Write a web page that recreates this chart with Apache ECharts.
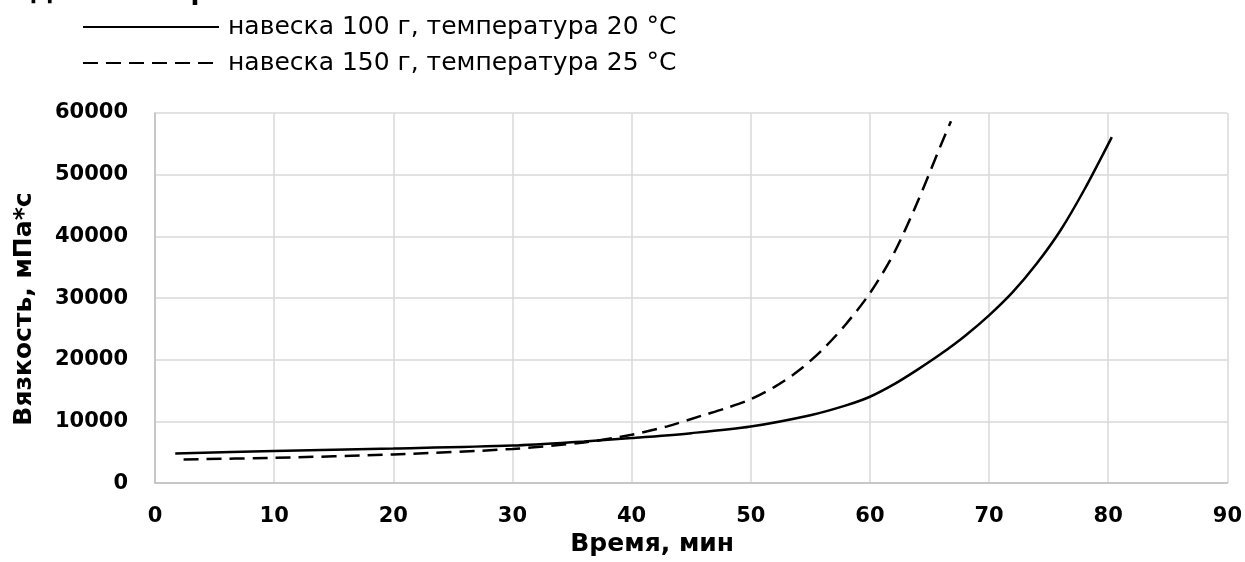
<!DOCTYPE html>
<html>
<head>
    <meta charset="utf-8">
    <title>Вязкость</title>
    <script src="https://cdn.jsdelivr.net/npm/echarts@6/dist/echarts.min.js"></script>
    <style type="text/css">
        body{ margin:0; background:#fff; }
    </style>
</head>
<body>
<div id="main" style="width:1245px;height:562px;"></div>

<script type="text/javascript">
    // данные
    var seriesNames = ['навеска 100 г, температура 20 °С', 'навеска 150 г, температура 25 °С'];
    // время, мин -> вязкость, мПа*с
    var time100 = [1.7, 10, 20, 30, 36, 40, 45, 50, 55, 58, 60, 62, 64, 66, 68, 70, 72, 74, 76, 78, 80.3];
    var visc100 = [4800, 5220, 5600, 6080, 6750, 7300, 8100, 9170, 11000, 12600, 14000, 16000, 18400, 21000, 23900, 27200, 31000, 35600, 41000, 47600, 56100];
    var time150 = [2.4, 10, 20, 30, 36, 40, 43, 46, 48, 50, 52, 54, 56, 58, 60, 62, 64, 66, 66.8];
    var visc150 = [3840, 4100, 4640, 5540, 6600, 7840, 9200, 11000, 12200, 13600, 15600, 18200, 21600, 25800, 30800, 37200, 45600, 55000, 58650];
    var xTicks = [0, 10, 20, 30, 40, 50, 60, 70, 80, 90];
    var yTicks = [0, 10000, 20000, 30000, 40000, 50000, 60000];

    function pairs(xs, ys) {
        var out = [];
        for (var i = 0; i < xs.length; i++) {
            out.push([xs[i], ys[i]]);
        }
        return out;
    }

    var font = 'Verdana, "DejaVu Sans", sans-serif';
    var myChart = echarts.init(document.getElementById('main'));
    myChart.setOption({
        animation: false,
        // заголовок почти целиком срезан сверху
        title: {
            text: 'Динамика роста вязкости',
            left: 30,
            top: -21,
            padding: 0,
            textStyle: { fontFamily: font, fontSize: 26, lineHeight: 26, fontWeight: 'bold', color: '#000' }
        },
        legend: {
            orient: 'vertical',
            left: 77,
            top: 9,
            itemWidth: 136,
            itemHeight: 14,
            itemGap: 10,
            data: seriesNames,
            itemStyle: { opacity: 0 },
            textStyle: { fontFamily: font, fontSize: 25, lineHeight: 26, color: '#000', padding: [0, 0, 0, 4] }
        },
        grid: { left: 155, right: 17, top: 113, bottom: 75 },
        xAxis: {
            type: 'value',
            min: xTicks[0],
            max: xTicks[xTicks.length - 1],
            interval: 10,
            name: 'Время, мин',
            nameLocation: 'middle',
            nameGap: 47,
            nameTextStyle: { fontFamily: font, fontSize: 25, fontWeight: 'bold', color: '#000', padding: [0, 78, 0, 0] },
            axisLine: { lineStyle: { color: '#bfbfbf', width: 1.5 } },
            axisTick: { show: false },
            axisLabel: { margin: 23, fontFamily: font, fontSize: 21, fontWeight: 'bold', color: '#000' },
            splitLine: { lineStyle: { color: '#d9d9d9', width: 1.5 } }
        },
        yAxis: {
            type: 'value',
            min: yTicks[0],
            max: yTicks[yTicks.length - 1],
            interval: 10000,
            name: 'Вязкость, мПа*с',
            nameLocation: 'middle',
            nameGap: 118,
            nameTextStyle: { fontFamily: font, fontSize: 25, fontWeight: 'bold', color: '#000', padding: [0, 22, 0, 0] },
            axisLine: { show: true, lineStyle: { color: '#bfbfbf', width: 1.5 } },
            axisTick: { show: false },
            axisLabel: {
                margin: 27, fontFamily: font, fontSize: 21, fontWeight: 'bold', color: '#000',
                formatter: function (v) { return String(v); }
            },
            splitLine: { lineStyle: { color: '#d9d9d9', width: 1.5 } }
        },
        series: [{
            name: seriesNames[0],
            type: 'line',
            smooth: 0.3,
            symbol: 'none',
            data: pairs(time100, visc100),
            lineStyle: { color: '#000', width: 2.5, type: 'solid' },
            itemStyle: { color: '#000' }
        }, {
            name: seriesNames[1],
            type: 'line',
            smooth: 0.3,
            symbol: 'none',
            data: pairs(time150, visc150),
            lineStyle: { color: '#000', width: 2.5, type: [15, 8] },
            itemStyle: { color: '#000' }
        }]
    });
</script>

</body>
</html>
